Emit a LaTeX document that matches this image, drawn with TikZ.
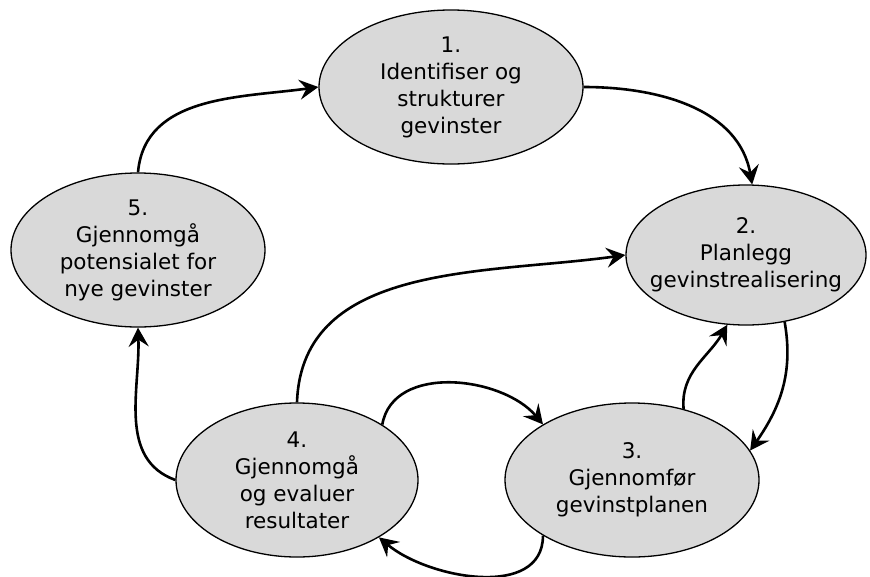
\documentclass[tikz,border=0pt]{standalone}
\usepackage{fontspec}
\setmainfont{DejaVu Sans}
\usetikzlibrary{arrows.meta,shapes.geometric}
\definecolor{stagefill}{HTML}{D9D9D9}

\tikzset{
	stage/.style={ellipse, draw, fill=stagefill, line width=1.3pt, inner sep=0pt},
	stagetext/.style={align=center, font=\fontsize{21.5pt}{27pt}\selectfont},
	flow/.style={line width=2.6pt, arrows={-Stealth[length=19pt,width=20pt,inset=7pt]}}
}

\begin{document}
\begin{tikzpicture}[x=1pt,y=1pt]
	\useasboundingbox (0,0) rectangle (870,-576);
	
	\node[stage, minimum width=264, minimum height=154,
		label={[stagetext]center:{1.\\Identifiser og\\strukturer\\gevinster}}] (s1) at (451,-87) {};
	\node[stage, minimum width=240, minimum height=140,
		label={[stagetext]center:{2.\\Planlegg\\gevinstrealisering}}] (s2) at (746,-255) {};
	\node[stage, minimum width=254, minimum height=154,
		label={[stagetext]center:{3.\\Gjennomfør\\gevinstplanen}}] (s3) at (632,-480) {};
	\node[stage, minimum width=242, minimum height=154,
		label={[stagetext]center:{4.\\Gjennomgå\\og evaluer\\resultater}}] (s4) at (297,-480) {};
	\node[stage, minimum width=254, minimum height=154,
		label={[stagetext]center:{5.\\Gjennomgå\\potensialet for\\nye gevinster}}] (s5) at (138,-250) {};
	
	% the outer cycle
	\draw[flow] (s5.90) to[out=85, in=188] (s1.180);
	\draw[flow] (s1.0) to[out=0, in=100] (s2.85);
	\draw[flow] (s2.300) to[out=-80, in=55] (s3.14);
	\draw[flow] (s4.180) to[out=160, in=-88] (s5.270);
	
	% the inner loops
	\draw[flow] (s3.54) to[out=95, in=240] (s2.255);
	\draw[flow] (s4.90) to[out=88, in=188] (s2.180);
	\draw[flow] (s4.33) to[out=80, in=130] (s3.148);
	\draw[flow] (s3.212) to[out=-90, in=-40] (s4.-35);
\end{tikzpicture}
\end{document}
